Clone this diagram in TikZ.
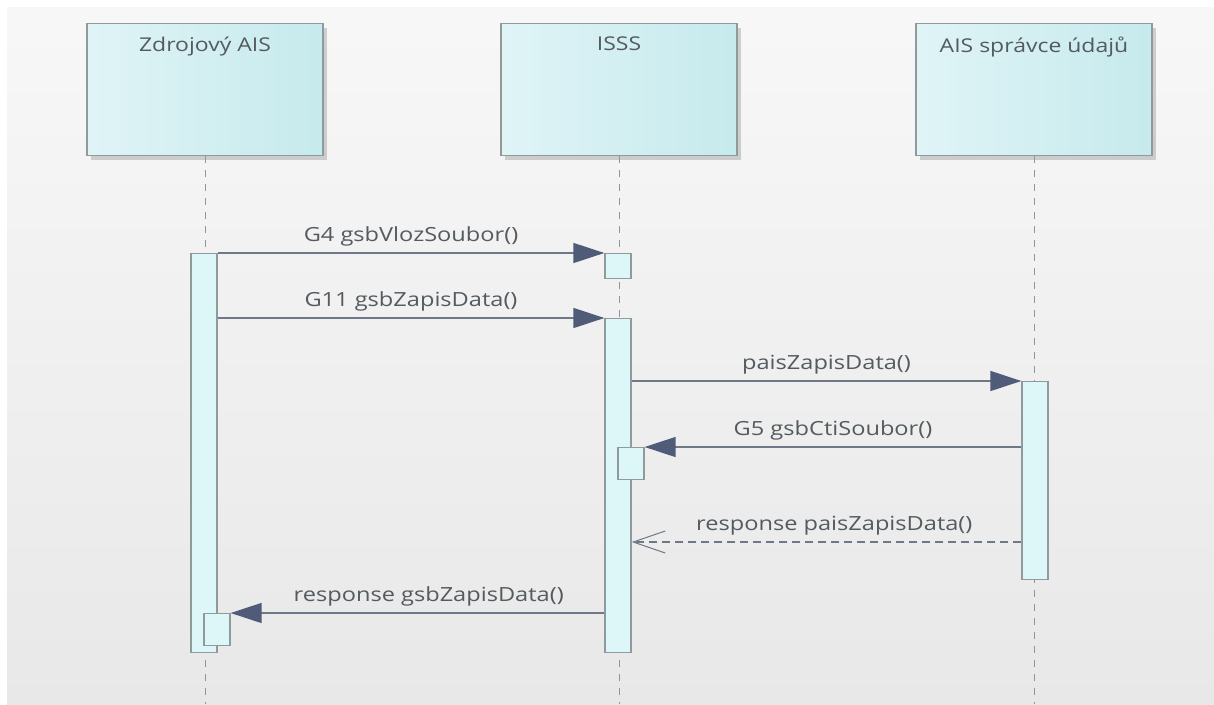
\documentclass[tikz,border=0pt]{standalone}
\usepackage{fontspec}
\setmainfont{Open Sans}
\usetikzlibrary{arrows.meta,shadows}
\definecolor{boxline}{HTML}{8E9A9C}
\definecolor{boxleft}{HTML}{E0F4F6}
\definecolor{boxright}{HTML}{C6EAED}
\definecolor{actfill}{HTML}{DDF6F8}
\definecolor{msgline}{HTML}{6E7886}
\definecolor{tipfill}{HTML}{4F5B78}
\definecolor{txt}{HTML}{535B5F}
\newcommand{\wide}[1]{\scalebox{1.21}[1]{#1}}
\begin{document}
\begin{tikzpicture}[x=1pt,y=-1pt,
  every node/.style={font=\fontsize{19.5}{22}\selectfont,text=txt},
  lifebox/.style={draw=boxline,line width=1.3pt,left color=boxleft,right color=boxright,
    minimum width=236pt,minimum height=132pt,anchor=north,inner sep=0pt,
    drop shadow={shadow xshift=4pt,shadow yshift=-4pt,fill=black!35,opacity=.5}},
  title/.style={anchor=north,yshift=-10pt,font=\fontsize{19}{22}\selectfont},
  lifeline/.style={draw=black!42,line width=1pt,dash pattern=on 7pt off 7pt},
  act/.style={draw=boxline,line width=1.3pt,fill=actfill,minimum width=26pt,
    anchor=north,inner sep=0pt},
  msg/.style={draw=msgline,line width=1.4pt,
    -{Triangle[length=31pt,width=20pt,fill=tipfill,color=tipfill]}},
  reply/.style={draw=msgline,line width=1.2pt,dash pattern=on 8pt off 5pt,
    -{Straight Barb[length=32pt,width=22pt,line width=1pt]}}]
\useasboundingbox (0,0) rectangle (1214,704);
\fill[white] (0,0) rectangle (1214,704);
\shade[top color=white!97!black,bottom color=black!9] (7,7) rectangle (1214,704);
\coordinate (bottom) at (0,704);
% participants
\node[lifebox,label={[title]north:\wide{Zdrojový AIS}}] (zdroj) at (205,23) {};
\node[lifebox,label={[title]north:\wide{ISSS}}] (isss) at (619,23) {};
\node[lifebox,label={[title]north:\wide{AIS správce údajů}}] (spravce) at (1034,23) {};
\foreach \p in {zdroj,isss,spravce}
  \draw[lifeline] (\p.south) -- (\p.south |- bottom);
% activations
\node[act,minimum height=399pt] (actA) at (204,253) {};
\node[act,minimum height=25pt] (actB1) at (618,253) {};
\node[act,minimum height=334pt] (actB) at (618,318) {};
\node[act,minimum height=198pt] (actC) at (1035,381) {};
\node[act,minimum height=32pt] (actB2) at (631,447) {};
\node[act,minimum height=32pt] (actA2) at (217,613) {};
\coordinate (r1) at (0,542);
% messages
\draw[msg] (actA.north east) -- node[above=3pt]{\wide{G4 gsbVlozSoubor()}} (actB1.north west);
\draw[msg] (actA.east |- actB.north) -- node[above=3pt]{\wide{G11 gsbZapisData()}} (actB.north west);
\draw[msg] (actB.east |- actC.north) -- node[above=3pt]{\wide{paisZapisData()}} (actC.north west);
\draw[msg] (actC.west |- actB2.north) -- node[above=3pt]{\wide{G5 gsbCtiSoubor()}} (actB2.north east);
\draw[reply] (actC.west |- r1) -- node[above=3pt,pos=.48]{\wide{response paisZapisData()}} (actB.east |- r1);
\draw[msg] (actB.west |- actA2.north) -- node[above=3pt,pos=.47]{\wide{response gsbZapisData()}} (actA2.north east);
\end{tikzpicture}
\end{document}
